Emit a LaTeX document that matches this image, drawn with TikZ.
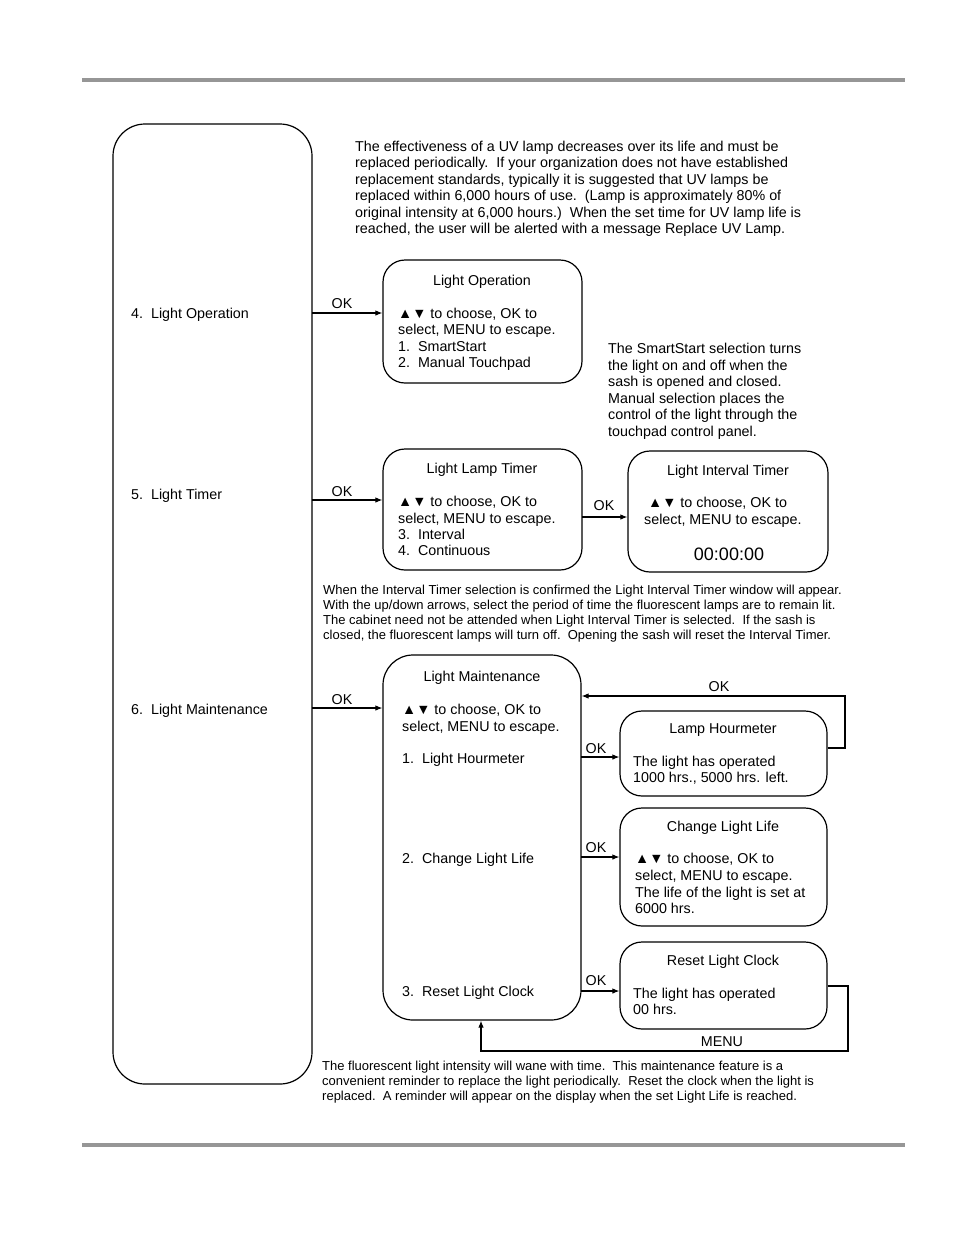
\documentclass[tikz,border=0pt]{standalone}
\usepackage{fontspec}
\setmainfont{Liberation Sans}
\usetikzlibrary{arrows.meta}
\definecolor{barg}{RGB}{150,150,150}
\newcommand\fm{\fontsize{14.3}{16.5}\selectfont}
\newcommand\fsm{\fontsize{13}{15}\selectfont}
\newcommand\fbig{\fontsize{18}{20}\selectfont}
\newcommand\ud{▲▼}
\begin{document}
\begin{tikzpicture}[x=1pt,y=-1pt,
  box/.style={draw, line width=1.2pt, rounded corners=22pt, inner sep=0},
  t/.style={font=\fm, inner sep=0, anchor=base west},
  tc/.style={font=\fm, inner sep=0, anchor=base},
  ts/.style={font=\fsm, inner sep=0, anchor=base west},
  arr/.style={line width=1.1pt, -{Latex[length=7pt,width=5.5pt]}},
  ln/.style={line width=1.1pt},
  bar/.style={draw=barg, line width=3.5pt}]
\useasboundingbox (0,0) rectangle (954,1235);
% header / footer rules
\coordinate (tb1) at (82,80); \coordinate (tb2) at (905,80);
\draw[bar] (tb1) -- (tb2);
\coordinate (bb1) at (82,1145); \coordinate (bb2) at (905,1145);
\draw[bar] (bb1) -- (bb2);

% boxes
\node[box, rounded corners=32pt, minimum width=199pt, minimum height=960pt] (main) at (212.5,604) {};
\node[box, minimum width=199pt, minimum height=123pt] (lop) at (482.5,321.5) {};
\node[box, minimum width=199pt, minimum height=121pt] (llt) at (482.5,509.5) {};
\node[box, minimum width=200pt, minimum height=121pt] (lit) at (728,511.5) {};
\node[box, rounded corners=30pt, minimum width=198pt, minimum height=365pt] (lm) at (482,837.5) {};
\node[box, minimum width=207pt, minimum height=85pt] (lh) at (723.5,753.5) {};
\node[box, minimum width=207pt, minimum height=118pt] (cll) at (723.5,867) {};
\node[box, minimum width=207pt, minimum height=87pt] (rlc) at (723.5,985.5) {};

% top paragraph
\node[t] (p1) at (355,151) {The effectiveness of a UV lamp decreases over its life and must be};
\node[t] (p2) at (355,167) {replaced periodically.\ \ If your organization does not have established};
\node[t] (p3) at (355,184) {replacement standards, typically it is suggested that UV lamps be};
\node[t] (p4) at (355,200) {replaced within 6,000 hours of use.\ \ (Lamp is approximately 80\% of};
\node[t] (p5) at (355,217) {original intensity at 6,000 hours.)\ \ When the set time for UV lamp life is};
\node[t] (p6) at (355,233) {reached, the user will be alerted with a message Replace UV Lamp.};

% left labels
\node[t] (m4) at (131,318) {4.\ \ Light Operation};
\node[t] (m5) at (131,499) {5.\ \ Light Timer};
\node[t] (m6) at (131,714) {6.\ \ Light Maintenance};

% arrows from main
\coordinate (a4) at (312,313);
\coordinate (a5) at (312,500);
\coordinate (a6) at (312,708);
\draw[arr] (a4) -- (a4 -| lop.west);
\draw[arr] (a5) -- (a5 -| llt.west);
\draw[arr] (a6) -- (a6 -| lm.west);
\node[tc] (ok4) at (342,308) {OK};
\node[tc] (ok5) at (342,496) {OK};
\node[tc] (ok6) at (342,704) {OK};

% Light Operation
\node[tc] (lopt) at (482,285) {Light Operation};
\node[t] (lop1) at (398,318) {\ud\ to choose, OK to};
\node[t] (lop2) at (398,334) {select, MENU to escape.};
\node[t] (lop3) at (398,351) {1.\ \ SmartStart};
\node[t] (lop4) at (398,367) {2.\ \ Manual Touchpad};

% SmartStart paragraph
\node[t] (s1) at (608,353) {The SmartStart selection turns};
\node[t] (s2) at (608,370) {the light on and off when the};
\node[t] (s3) at (608,386) {sash is opened and closed.};
\node[t] (s4) at (608,403) {Manual selection places the};
\node[t] (s5) at (608,419) {control of the light through the};
\node[t] (s6) at (608,436) {touchpad control panel.};

% Light Lamp Timer
\node[tc] (lltt) at (482,473) {Light Lamp Timer};
\node[t] (llt1) at (398,506) {\ud\ to choose, OK to};
\node[t] (llt2) at (398,523) {select, MENU to escape.};
\node[t] (llt3) at (398,539) {3.\ \ Interval};
\node[t] (llt4) at (398,555) {4.\ \ Continuous};
\coordinate (a7) at (582,517);
\draw[arr] (a7) -- (a7 -| lit.west);
\node[tc] (ok7) at (604,510) {OK};

% Light Interval Timer
\node[tc] (litt) at (728,475) {Light Interval Timer};
\node[t] (lit1) at (648,507) {\ud\ to choose, OK to};
\node[t] (lit2) at (644,524) {select, MENU to escape.};
\node[font=\fbig, inner sep=0, anchor=base] (lit3) at (729,560) {00:00:00};

% interval paragraph
\node[ts] (q1) at (323,594) {When the Interval Timer selection is confirmed the Light Interval Timer window will appear.};
\node[ts] (q2) at (323,609) {With the up/down arrows, select the period of time the fluorescent lamps are to remain lit.};
\node[ts] (q3) at (323,624) {The cabinet need not be attended when Light Interval Timer is selected.\ \ If the sash is};
\node[ts] (q4) at (323,639) {closed, the fluorescent lamps will turn off.\ \ Opening the sash will reset the Interval Timer.};

% Light Maintenance
\node[tc] (lmt) at (482,681) {Light Maintenance};
\node[t] (lm1) at (402,714) {\ud\ to choose, OK to};
\node[t] (lm2) at (402,731) {select, MENU to escape.};
\node[t] (lm3) at (402,763) {1.\ \ Light Hourmeter};
\node[t] (lm4) at (402,863) {2.\ \ Change Light Life};
\node[t] (lm5) at (402,996) {3.\ \ Reset Light Clock};

% arrows to sub boxes
\coordinate (b1) at (581,757);
\coordinate (b2) at (581,857);
\coordinate (b3) at (581,991);
\draw[arr] (b1) -- (b1 -| lh.west);
\draw[arr] (b2) -- (b2 -| cll.west);
\draw[arr] (b3) -- (b3 -| rlc.west);
\node[tc] (okb1) at (596,753) {OK};
\node[tc] (okb2) at (596,852) {OK};
\node[tc] (okb3) at (596,985) {OK};

% Lamp Hourmeter
\node[tc] (lht) at (723,733) {Lamp Hourmeter};
\node[t] (lh1) at (633,766) {The light has operated};
\node[t] (lh2) at (633,782) {1000 hrs., 5000 hrs. left.};

% Change Light Life
\node[tc] (cllt) at (723,831) {Change Light Life};
\node[t] (cll1) at (635,863) {\ud\ to choose, OK to};
\node[t] (cll2) at (635,880) {select, MENU to escape.};
\node[t] (cll3) at (635,897) {The life of the light is set at};
\node[t] (cll4) at (635,913) {6000 hrs.};

% Reset Light Clock
\node[tc] (rlct) at (723,965) {Reset Light Clock};
\node[t] (rlc1) at (633,998) {The light has operated};
\node[t] (rlc2) at (633,1014) {00 hrs.};

% OK feedback loop
\coordinate (f1) at (845,748);
\coordinate (f2) at (845,696);
\draw[arr] (f1 -| lh.east) -- (f1) -- (f2) -- (f2 -| lm.east);
\node[tc] (okf) at (719,691) {OK};

% MENU feedback loop
\coordinate (g1) at (848,986);
\coordinate (g2) at (848,1051);
\coordinate (g3) at (481,1051);
\draw[arr] (g1 -| rlc.east) -- (g1) -- (g2) -- (g3) -- (g3 |- lm.south);
\node[tc] (menu) at (722,1046) {MENU};

% bottom paragraph
\node[ts] (r1) at (322,1070) {The fluorescent light intensity will wane with time.\ \ This maintenance feature is a};
\node[ts] (r2) at (322,1085) {convenient reminder to replace the light periodically.\ \ Reset the clock when the light is};
\node[ts] (r3) at (322,1100) {replaced.\ \ A reminder will appear on the display when the set Light Life is reached.};
\end{tikzpicture}
\end{document}
